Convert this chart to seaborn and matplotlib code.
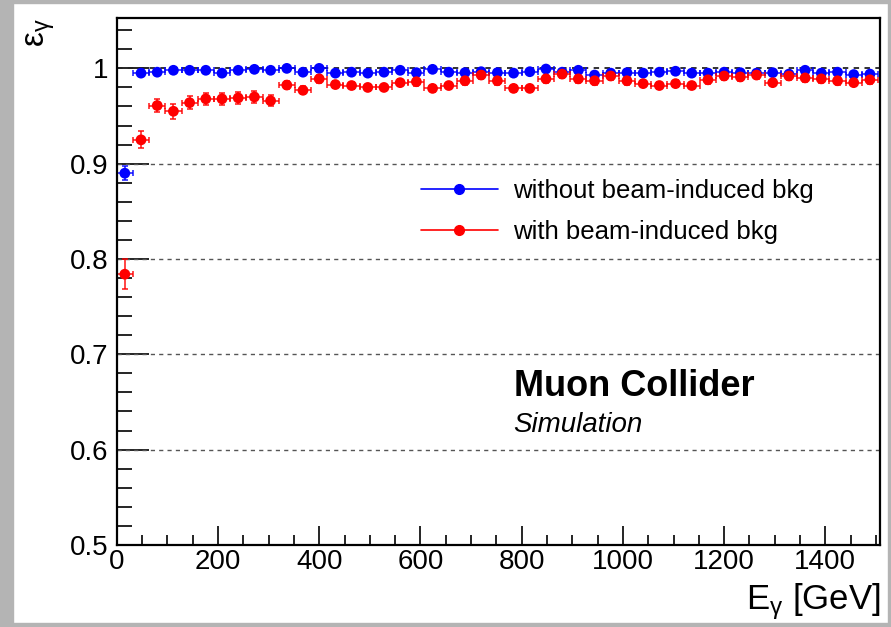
import numpy as np
import pandas as pd
import matplotlib
matplotlib.use("Agg")
import matplotlib.pyplot as plt
import seaborn as sns
from matplotlib.lines import Line2D
from matplotlib.patches import Rectangle
from matplotlib.ticker import MultipleLocator

# -----------------------------
# Data
# -----------------------------
energy = [16, 48, 80, 112, 144, 176, 208, 240, 272, 304, 336, 368, 400, 432, 464, 496,
          528, 560, 592, 624, 656, 688, 720, 752, 784, 816, 848, 880, 912, 944, 976,
          1008, 1040, 1072, 1104, 1136, 1168, 1200, 1232, 1264, 1296, 1328, 1360, 1392,
          1424, 1456, 1488]
bin_half = [16] * len(energy)

eff_nobkg = [0.890, 0.995, 0.996, 0.998, 0.998, 0.998, 0.995, 0.998, 0.999, 0.998,
             1.000, 0.996, 1.000, 0.995, 0.996, 0.995, 0.996, 0.998, 0.9955, 0.999,
             0.996, 0.9955, 0.9965, 0.9955, 0.995, 0.9965, 0.9993, 0.996, 0.998, 0.993,
             0.995, 0.9955, 0.995, 0.996, 0.997, 0.995, 0.995, 0.996, 0.9955, 0.995,
             0.9955, 0.994, 0.998, 0.995, 0.996, 0.9935, 0.994]
err_nobkg = [0.0075, 0.003] + [0.002] * 45

eff_bkg = [0.784, 0.925, 0.961, 0.955, 0.964, 0.968, 0.968, 0.969, 0.970, 0.966,
           0.9825, 0.977, 0.989, 0.983, 0.982, 0.980, 0.980, 0.985, 0.986, 0.979,
           0.982, 0.987, 0.993, 0.987, 0.979, 0.979, 0.989, 0.994, 0.989, 0.987,
           0.992, 0.987, 0.984, 0.982, 0.984, 0.982, 0.988, 0.992, 0.991, 0.993,
           0.985, 0.992, 0.990, 0.989, 0.987, 0.985, 0.988]
err_bkg = [0.016, 0.009, 0.007, 0.008, 0.007, 0.006, 0.006, 0.006, 0.006, 0.006] + [0.004] * 37

labels = ["without beam-induced bkg", "with beam-induced bkg"]
colors = ["#0000ff", "#ff0000"]

df = pd.concat([
    pd.DataFrame({"E": energy, "eff": eff_nobkg, "err": err_nobkg, "sample": labels[0]}),
    pd.DataFrame({"E": energy, "eff": eff_bkg, "err": err_bkg, "sample": labels[1]}),
])

# -----------------------------
# Plot
# -----------------------------
sns.set_theme(style="ticks")
plt.rcParams["font.family"] = ["Liberation Sans", "DejaVu Sans"]
plt.rcParams["mathtext.fontset"] = "custom"
plt.rcParams["mathtext.rm"] = "Liberation Sans"
plt.rcParams["mathtext.it"] = "Liberation Sans:italic"
plt.rcParams["text.color"] = "black"
plt.rcParams["xtick.color"] = "black"
plt.rcParams["ytick.color"] = "black"

fig = plt.figure(figsize=(8.91, 6.27), dpi=100)
ax = fig.add_axes([0.131, 0.131, 0.8567, 0.8405])

ax.set_ylim(0.5, 1.053)
ax.set_xlim(0, 1508)

# dashed horizontal grid
for yv in [0.6, 0.7, 0.8, 0.9, 1.0]:
    ax.axhline(yv, color="#222222" if yv == 1.0 else "#555555",
               lw=1.3 if yv == 1.0 else 1.0, ls=(0, (3, 3)), zorder=1)

for name, col in zip(labels, colors):
    sub = df[df["sample"] == name]
    ax.errorbar(sub["E"], sub["eff"], xerr=bin_half, yerr=sub["err"], fmt="none",
                ecolor=col, elinewidth=1.2, capsize=2, capthick=1.2, alpha=0.85, zorder=2)

sns.scatterplot(data=df, x="E", y="eff", hue="sample", palette=colors,
                s=60, edgecolor="none", legend=False, ax=ax, zorder=3)

# axes style (ROOT-like)
for sp in ax.spines.values():
    sp.set_linewidth(1.6)
    sp.set_color("black")
    sp.set_visible(True)
ax.xaxis.set_major_locator(MultipleLocator(200))
ax.xaxis.set_minor_locator(MultipleLocator(50))
ax.yaxis.set_major_locator(MultipleLocator(0.1))
ax.yaxis.set_minor_locator(MultipleLocator(0.02))
ax.tick_params(axis="both", which="both", direction="in", top=False, right=False,
               labelsize=20, width=1.2, color="black", labelcolor="black")
ax.tick_params(axis="y", which="major", length=23, pad=6)
ax.tick_params(axis="y", which="minor", length=11)
ax.tick_params(axis="x", which="major", length=14, pad=3)
ax.tick_params(axis="x", which="minor", length=7)
ax.set_yticks([0.5, 0.6, 0.7, 0.8, 0.9, 1.0])
ax.set_yticklabels(["0.5", "0.6", "0.7", "0.8", "0.9", "1"])
ax.set_xlabel("")
ax.set_ylabel("")

fig.text(0.988, 0.028, r"E$_{\mathrm{γ}}$ [GeV]", ha="right", va="baseline", fontsize=25)
fig.text(0.028, 0.925, r"$\mathrm{ε}_{\mathrm{γ}}$", rotation=90, ha="left", va="bottom",
         fontsize=24)

ax.text(0.520, 0.283, "Muon Collider", transform=ax.transAxes, fontsize=26,
        fontweight="bold", ha="left", va="baseline")
ax.text(0.520, 0.215, "Simulation", transform=ax.transAxes, fontsize=20,
        style="italic", ha="left", va="baseline")

handles = [Line2D([0], [0], color=c, lw=1.2, marker="o", markersize=7) for c in colors]
ax.legend(handles, labels, loc="upper left", bbox_to_anchor=(0.398, 0.694), frameon=False,
          fontsize=18.5, handlelength=3.0, handletextpad=0.6, labelspacing=0.65,
          borderpad=0, borderaxespad=0)

# gray canvas border / shadow
gray = "#b4b4b4"
fig.patches.extend([
    Rectangle((0, 0), 13 / 891, 1, transform=fig.transFigure, color=gray, zorder=-1),
    Rectangle((0, 1 - 3 / 627), 1, 3 / 627, transform=fig.transFigure, color=gray, zorder=-1),
    Rectangle((0, 0), 1, 4 / 627, transform=fig.transFigure, color=gray, zorder=-1),
    Rectangle((1 - 3 / 891, 0), 3 / 891, 1, transform=fig.transFigure, color=gray, zorder=-1),
])

fig.savefig("out.png", dpi=100)
